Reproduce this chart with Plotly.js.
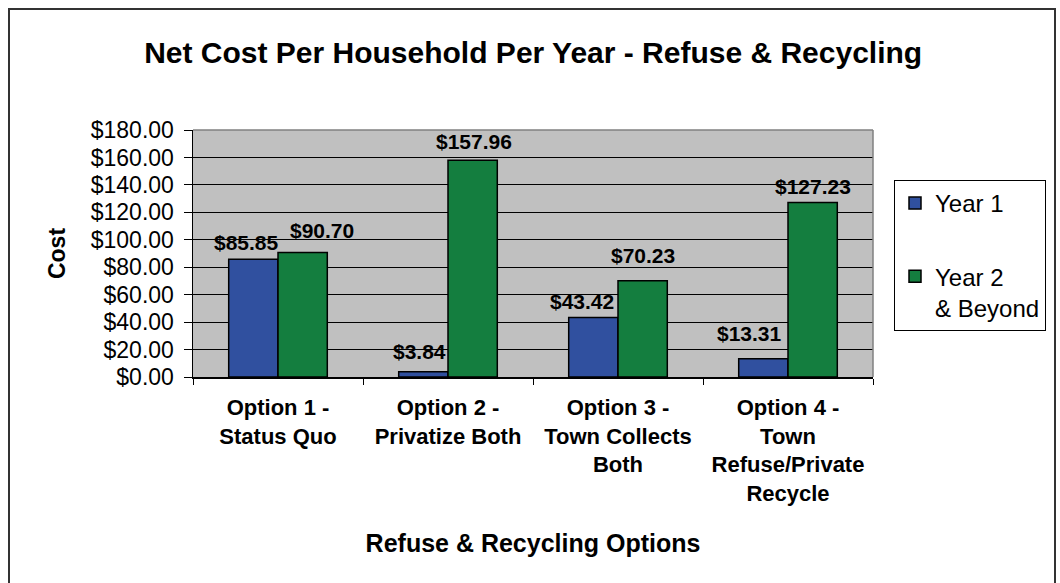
<!DOCTYPE html>
<html>
<head>
<meta charset="utf-8">
<script src="https://cdn.plot.ly/plotly-3.0.1.min.js"></script>
<style>
  html, body { margin: 0; padding: 0; background: #ffffff; }
  #chart { width: 1060px; height: 583px; }
</style>
</head>
<body>
<div id="chart"></div>
<script>
// ---- data ----
const categories = [
  "Option 1 -<br>Status Quo",
  "Option 2 -<br>Privatize Both",
  "Option 3 -<br>Town Collects<br>Both",
  "Option 4 -<br>Town<br>Refuse/Private<br>Recycle"
];
const seriesNames = ["Year 1", "Year 2<br>& Beyond"];
const year1 = [85.85, 3.84, 43.42, 13.31];
const year2 = [90.70, 157.96, 70.23, 127.23];
const yTickVals = [0, 20, 40, 60, 80, 100, 120, 140, 160, 180];
const yTickText = yTickVals.map(v => "$" + v.toFixed(2));

// ---- styles ----
const FONT = '"Liberation Sans", Arial, Helvetica, sans-serif';
const colors = ["#30509F", "#147E3F"];
const barCenterShift = [-24.5, 24.5];           // px offset of each series' bar centre
const labelNudgeX = [[-7, -4, -12, -14], [19, 1, 0, 0]];   // px, label placement
const labelNudgeY = [[17, 20, 16, 25], [22, 19, 25, 16]];  // px above bar top

const traces = [year1, year2].map((vals, s) => ({
  type: "bar",
  name: seriesNames[s],
  legendgroup: "g" + s,
  x: categories,
  y: vals,
  marker: { color: colors[s], line: { color: "#000000", width: 1.5 } },
  hoverinfo: "skip"
}));

const annotations = [];
[year1, year2].forEach((vals, s) => {
  vals.forEach((v, i) => {
    annotations.push({
      xref: "x", yref: "y",
      x: categories[i], y: v,
      text: "$" + v.toFixed(2),
      showarrow: false,
      xanchor: "center", yanchor: "middle",
      xshift: barCenterShift[s] + labelNudgeX[s][i],
      yshift: labelNudgeY[s][i],
      font: { family: FONT, size: 21, color: "#000000", weight: "bold" }
    });
  });
});

const plotL = 193, plotR = 873, plotT = 130, plotB = 377;
const pw = plotR - plotL, ph = plotB - plotT;
const px = X => (X - plotL) / pw;
const py = Y => (plotB - Y) / ph;

const layout = {
  width: 1060, height: 583,
  paper_bgcolor: "#ffffff",
  plot_bgcolor: "#C0C0C0",
  margin: { l: plotL, r: 1060 - plotR, t: plotT, b: 583 - plotB, pad: 0 },
  font: { family: FONT, color: "#000000" },
  title: {
    text: "Net Cost Per Household Per Year - Refuse & Recycling",
    font: { family: FONT, size: 30, color: "#000000", weight: "bold" },
    x: 0.503, xanchor: "center",
    y: 1 - 52 / 583, yanchor: "middle", yref: "container"
  },
  barmode: "group",
  bargap: 0.42,
  bargroupgap: 0,
  xaxis: {
    type: "category",
    showline: true, linecolor: "#000000", linewidth: 1.5,
    ticks: "outside", ticklen: 6, tickcolor: "#000000", tickwidth: 1,
    tickson: "boundaries",
    ticklabelstandoff: 10,
    tickfont: { family: FONT, size: 22, color: "#000000", weight: "bold" },
    showgrid: false, zeroline: false,
    title: {
      text: "Refuse & Recycling Options",
      font: { family: FONT, size: 25, color: "#000000", weight: "bold" },
      standoff: 30
    }
  },
  yaxis: {
    range: [0, 180],
    tickmode: "array", tickvals: yTickVals, ticktext: yTickText,
    showline: true, linecolor: "#000000", linewidth: 1.5,
    ticks: "outside", ticklen: 8, tickcolor: "#000000", tickwidth: 1,
    ticklabelstandoff: 5,
    tickfont: { family: FONT, size: 23, color: "#000000" },
    showgrid: true, gridcolor: "#000000", gridwidth: 1,
    zeroline: false,
    title: {
      text: "Cost",
      font: { family: FONT, size: 23, color: "#000000", weight: "bold" },
      standoff: 18
    }
  },
  legend: {
    x: px(894), y: py(180), xanchor: "left", yanchor: "top",
    bgcolor: "#ffffff", bordercolor: "#000000", borderwidth: 1,
    font: { family: FONT, size: 24, color: "#000000" },
    traceorder: "grouped",
    tracegroupgap: 39,
    itemwidth: 30,
    valign: "top"
  },
  annotations: annotations,
  shapes: [
    { type: "line", xref: "paper", yref: "paper", x0: 0, x1: 1, y0: 1, y1: 1,
      line: { color: "#808080", width: 1.5 }, layer: "above" },
    { type: "line", xref: "paper", yref: "paper", x0: 1, x1: 1, y0: 0, y1: 1,
      line: { color: "#808080", width: 1.5 }, layer: "above" },
    { type: "rect", xref: "paper", yref: "paper",
      x0: px(9), x1: px(1055), y0: py(9), y1: py(620),
      line: { color: "#333333", width: 2 }, fillcolor: "rgba(0,0,0,0)", layer: "above" }
  ],
  showlegend: true
};

Plotly.newPlot("chart", traces, layout, { displayModeBar: false, staticPlot: true });
</script>
</body>
</html>
